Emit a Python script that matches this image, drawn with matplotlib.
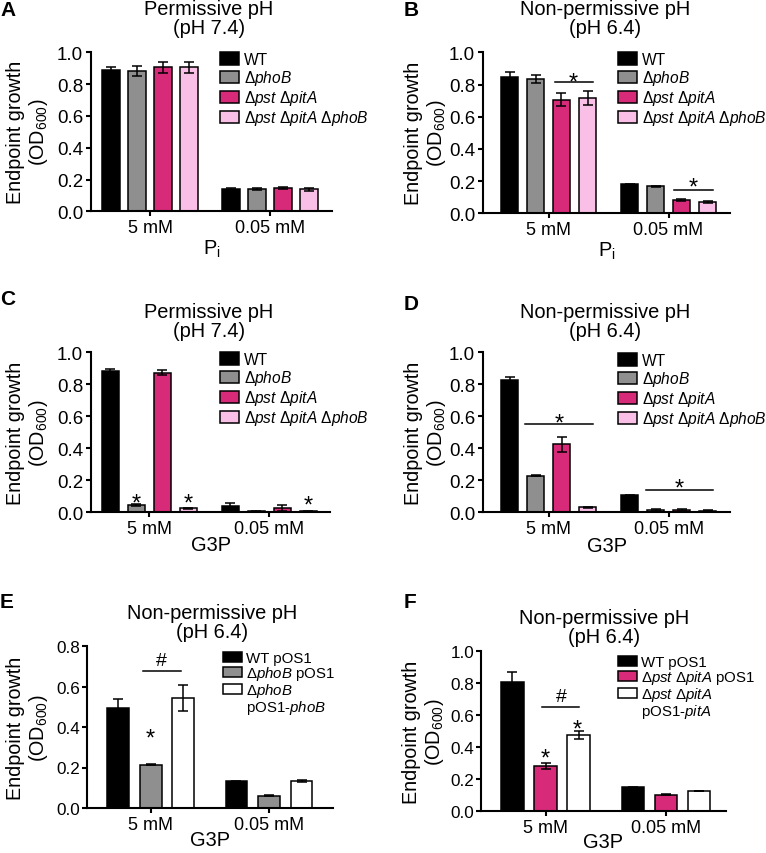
import numpy as np
import matplotlib
matplotlib.use('Agg')
import matplotlib.pyplot as plt
from matplotlib.patches import Patch
from matplotlib import transforms as mtransforms

plt.rcParams['font.family'] = ['Liberation Sans', 'DejaVu Sans']
plt.rcParams['mathtext.fontset'] = 'custom'
plt.rcParams['mathtext.rm'] = 'Liberation Sans'
plt.rcParams['mathtext.it'] = 'Liberation Sans:italic'
plt.rcParams['mathtext.default'] = 'regular'

# ---- data ----
groups = ['5 mM', '0.05 mM']

labels_4 = ['WT', 'Δ$\\it{phoB}$', 'Δ$\\it{pst}$ Δ$\\it{pitA}$',
            'Δ$\\it{pst}$ Δ$\\it{pitA}$ Δ$\\it{phoB}$']
labels_e = ['WT pOS1', 'Δ$\\it{phoB}$ pOS1', 'Δ$\\it{phoB}$', 'pOS1-$\\it{phoB}$']
labels_f = ['WT pOS1', 'Δ$\\it{pst}$ Δ$\\it{pitA}$ pOS1', 'Δ$\\it{pst}$ Δ$\\it{pitA}$',
            'pOS1-$\\it{pitA}$']

# rows = strains, columns = groups (5 mM, 0.05 mM)
a_vals = [[0.890, 0.140], [0.882, 0.140], [0.905, 0.148], [0.905, 0.138]]
a_errs = [[0.020, 0.005], [0.030, 0.004], [0.035, 0.006], [0.035, 0.008]]
b_vals = [[0.845, 0.180], [0.834, 0.168], [0.706, 0.085], [0.714, 0.070]]
b_errs = [[0.030, 0.005], [0.027, 0.004], [0.040, 0.006], [0.043, 0.005]]
c_vals = [[0.881, 0.040], [0.044, 0.005], [0.872, 0.024], [0.023, 0.005]]
c_errs = [[0.015, 0.015], [0.006, 0.002], [0.015, 0.020], [0.004, 0.002]]
d_vals = [[0.827, 0.105], [0.228, 0.015], [0.425, 0.015], [0.030, 0.010]]
d_errs = [[0.018, 0.004], [0.004, 0.004], [0.048, 0.006], [0.004, 0.003]]
e_vals = [[0.494, 0.132], [0.214, 0.060], [0.542, 0.133]]
e_errs = [[0.043, 0.003], [0.004, 0.003], [0.065, 0.007]]
f_vals = [[0.808, 0.148], [0.283, 0.102], [0.477, 0.124]]
f_errs = [[0.060, 0.003], [0.020, 0.002], [0.025, 0.002]]

# significance marks: (x0, x1, y) lines and (x, y, symbol) marks
b_lines = [(0.05, 0.37, 0.817), (1.046, 1.37, 0.147)]
b_marks = [(0.21, 0.86, '*'), (1.21, 0.205, '*')]
c_lines = []
c_marks = [(-0.108, 0.097, '*'), (0.325, 0.097, '*'), (1.325, 0.088, '*')]
d_lines = [(-0.20, 0.37, 0.549), (0.81, 1.37, 0.139)]
d_marks = [(0.086, 0.60, '*'), (1.09, 0.193, '*')]
e_lines = [(-0.063, 0.254, 0.675)]
e_marks = [(0.0, 0.38, '*'), (0.093, 0.742, '#')]
f_lines = [(-0.03, 0.278, 0.652)]
f_marks = [(0.0, 0.377, '*'), (0.266, 0.554, '*'), (0.134, 0.733, '#')]

col4 = ['black', '#8f8f8f', '#d72a79', '#f9bfe6']
col_e = ['black', '#8f8f8f', 'white']
col_f = ['black', '#d72a79', 'white']

W, H = 766, 854
fig = plt.figure(figsize=(W / 100, H / 100), dpi=100)


def fx(px):
    return px / W


def fy(py):
    return 1 - py / H


SYM_OFF = {'*': 0.57, '#': 0.36}
SYM_FS = {'*': 17, '#': 14}


def panel(box, c0, step, ymax, vals, errs, colors, labels, offs, width,
          lines, marks, title, title_xy, letter, letter_xy, leg_xy,
          ylab_x, xlab, xlab_top, small=False):
    left, right, top, bottom = box
    ax = fig.add_axes([fx(left), fy(bottom), (right - left) / W, (bottom - top) / H])
    x = np.arange(len(groups))
    for i in range(len(vals)):
        xs = x + offs[i]
        ax.bar(xs, vals[i], width, color=colors[i], edgecolor='black',
               linewidth=1.1, zorder=2)
        ax.errorbar(xs, vals[i], yerr=errs[i], fmt='none', ecolor='black',
                    elinewidth=1.1, capsize=3.6, capthick=1.1, zorder=3)
    ax.set_xlim((left - c0) / step, (right - c0) / step)
    ax.set_ylim(0, ymax)
    yt = np.round(np.arange(0, ymax + 0.001, 0.2), 1)
    ax.set_yticks(yt)
    ax.set_yticklabels(['%.1f' % t for t in yt])
    ax.set_xticks(x)
    ax.set_xticklabels(groups)
    for s in ['top', 'right']:
        ax.spines[s].set_visible(False)
    for s in ['left', 'bottom']:
        ax.spines[s].set_linewidth(1.5)
    ax.tick_params(width=1.5, length=3.6, pad=2)
    ax.tick_params(axis='y', labelsize=12.3 if small else 13.5, pad=1 if small else 2)
    ax.tick_params(axis='x', labelsize=13)

    for x0, x1, y in lines:
        ax.plot([x0, x1], [y, y], color='black', lw=1.1, zorder=4)
    for xm, ym, sym in marks:
        fs = SYM_FS[sym]
        tr = mtransforms.offset_copy(ax.transData, fig=fig, x=0,
                                     y=-SYM_OFF[sym] * fs, units='points')
        ax.text(xm, ym, sym, transform=tr, ha='center', va='baseline', fontsize=fs)

    handles = [Patch(facecolor=c, edgecolor='black', linewidth=1.1) for c in colors]
    if small:
        handles.append(Patch(facecolor='none', edgecolor='none'))
        lfs, lsp, lhh = 10.8, -0.06, 0.66
    else:
        lfs, lsp, lhh = 11.2, 0.07, 0.85
    ax.legend(handles, labels, loc='upper left',
              bbox_to_anchor=(fx(leg_xy[0]), fy(leg_xy[1])),
              bbox_transform=fig.transFigure, frameon=False, fontsize=lfs,
              handlelength=1.25, handleheight=lhh, handletextpad=0.3,
              labelspacing=lsp, borderpad=0, borderaxespad=0)

    ax.set_ylabel('Endpoint growth\n(OD$_{600}$)', fontsize=14.2, linespacing=1.1)
    ax.yaxis.set_label_coords(fx(ylab_x), fy((top + bottom) / 2), transform=fig.transFigure)
    ax.set_xlabel(xlab, fontsize=14.4)
    ax.xaxis.set_label_coords(fx((left + right) / 2), fy(xlab_top), transform=fig.transFigure)

    fig.text(fx(title_xy[0]), fy(title_xy[1]), title, ha='center', va='center',
             fontsize=14.4, linespacing=0.95)
    fig.text(fx(letter_xy[0]), fy(letter_xy[1]), letter, ha='left', va='center',
             fontsize=15, fontweight='bold')
    return ax


offs4 = [-0.325, -0.108, 0.108, 0.325]
offs3 = [-0.275, 0.0, 0.275]
perm = 'Permissive pH\n(pH 7.4)'
nonperm = 'Non-permissive pH\n(pH 6.4)'

panel((91, 332, 53.3, 212.3), 150, 120, 1.0, a_vals, a_errs, col4, labels_4, offs4, 0.145,
      [], [], perm, (209, 19), 'A', (0, 10), (220, 53), 50, 'P$_i$', 239)
panel((483, 730, 53.3, 214.3), 548.5, 120, 1.0, b_vals, b_errs, col4, labels_4, offs4, 0.145,
      b_lines, b_marks, nonperm, (605, 19), 'B', (404, 10), (618, 53), 448, 'P$_i$', 241)
panel((91, 330, 353.3, 513), 149.3, 120, 1.0, c_vals, c_errs, col4, labels_4, offs4, 0.145,
      c_lines, c_marks, perm, (209, 322), 'C', (0, 300), (220, 353), 50, 'G3P', 536)
panel((483, 730, 353.3, 513.3), 548.7, 120, 1.0, d_vals, d_errs, col4, labels_4, offs4, 0.145,
      d_lines, d_marks, nonperm, (605, 322), 'D', (404, 305), (618, 354), 448, 'G3P', 537)
panel((87, 333, 647, 809), 150.7, 118.3, 0.8, e_vals, e_errs, col_e, labels_e, offs3, 0.185,
      e_lines, e_marks, nonperm, (212, 623), 'E', (0, 603), (223, 652), 50, 'G3P', 831, True)
panel((481, 726, 652, 812), 545.5, 120.5, 1.0, f_vals, f_errs, col_f, labels_f, offs3, 0.185,
      f_lines, f_marks, nonperm, (604, 628), 'F', (404, 603), (618, 656), 446, 'G3P', 833, True)

fig.savefig('out.png', dpi=100)
